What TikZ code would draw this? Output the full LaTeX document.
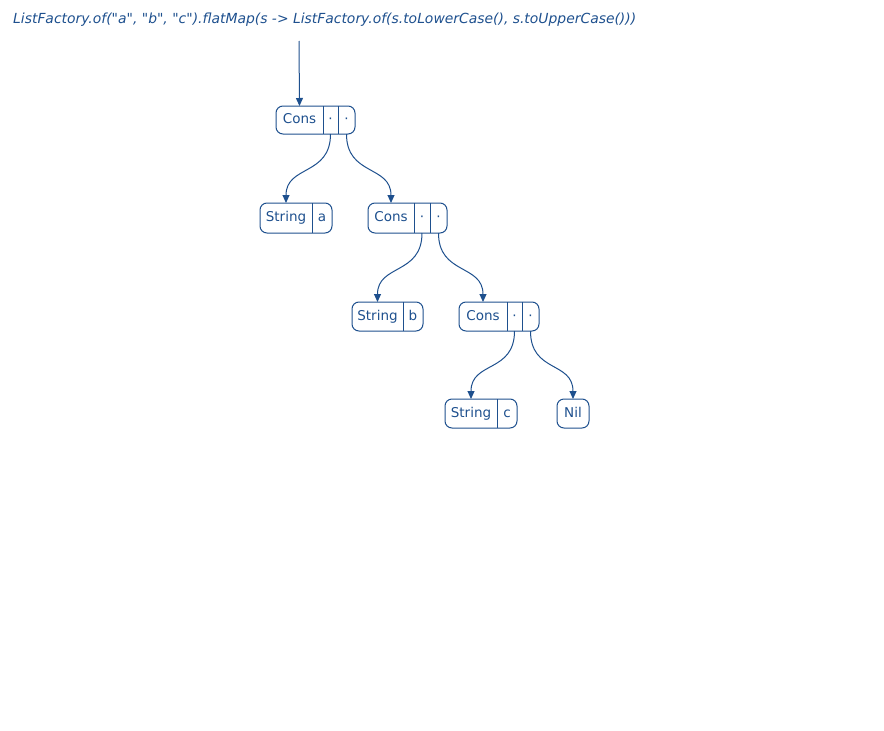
\documentclass[tikz,border=0pt]{standalone}
\usepackage{fontspec}
\setmainfont{DejaVu Sans}
\usetikzlibrary{arrows.meta}
\definecolor{ink}{RGB}{30,80,142}
\tikzset{
  x=1pt, y=-1pt,
  rec/.style={draw=ink, line width=1pt, rounded corners=7pt, inner sep=0pt, outer sep=0pt},
  cell/.style={inner sep=0pt, outer sep=0pt, text=ink, font=\fontsize{13.5}{15}\selectfont,
    text height=10pt, text depth=3pt},
  divider/.style={draw=ink, line width=1pt},
  link/.style={draw=ink, line width=1pt, -{Triangle[width=7pt,length=8pt]}},
}
\newcommand{\cellnode}[5]{% name, left, right, ycenter, text
  \node[cell, minimum width={#3-#2}, minimum height=28] (#1) at ({(#2+#3)/2},#4) {#5};}
\newcommand{\qd}{\textquotedbl}
\begin{document}
\begin{tikzpicture}
\useasboundingbox (0,0) rectangle (884,731);
% title
\node[anchor=west, inner sep=0pt, text=ink] (title) at (13,20)
  {\resizebox{623pt}{!}{\itshape ListFactory.of(\qd a\qd, \qd b\qd, \qd c\qd).flatMap(s -> ListFactory.of(s.toLowerCase(), s.toUpperCase()))}};
\coordinate (start) at (299,41);

% Cons 1
\node[rec, minimum width=79, minimum height=28] (c1) at (315.5,120) {};
\cellnode{c1t}{276}{323}{120}{Cons}
\cellnode{c1h}{323}{338}{120}{·}
\cellnode{c1r}{338}{355}{120}{·}
\draw[divider] (c1t.north east) -- (c1t.south east);
\draw[divider] (c1h.north east) -- (c1h.south east);

% String a
\node[rec, minimum width=72, minimum height=30] (sa) at (296,218) {};
\cellnode{sat}{260}{312}{218}{String}
\cellnode{sav}{312}{332}{218}{a}
\draw[divider] (sa.north -| sat.east) -- (sa.south -| sat.east);

% Cons 2
\node[rec, minimum width=79, minimum height=30] (c2) at (407.5,218) {};
\cellnode{c2t}{368}{414}{218}{Cons}
\cellnode{c2h}{414}{430}{218}{·}
\cellnode{c2r}{430}{447}{218}{·}
\draw[divider] (c2.north -| c2t.east) -- (c2.south -| c2t.east);
\draw[divider] (c2.north -| c2h.east) -- (c2.south -| c2h.east);

% String b
\node[rec, minimum width=71, minimum height=29] (sb) at (387.5,316.5) {};
\cellnode{sbt}{352}{403}{316.5}{String}
\cellnode{sbv}{403}{423}{316.5}{b}
\draw[divider] (sb.north -| sbt.east) -- (sb.south -| sbt.east);

% Cons 3
\node[rec, minimum width=80, minimum height=29] (c3) at (499,316.5) {};
\cellnode{c3t}{459}{507}{316.5}{Cons}
\cellnode{c3h}{507}{522}{316.5}{·}
\cellnode{c3r}{522}{539}{316.5}{·}
\draw[divider] (c3.north -| c3t.east) -- (c3.south -| c3t.east);
\draw[divider] (c3.north -| c3h.east) -- (c3.south -| c3h.east);

% String c
\node[rec, minimum width=72, minimum height=29] (sc) at (481,413.5) {};
\cellnode{sct}{445}{497}{413.5}{String}
\cellnode{scv}{497}{517}{413.5}{c}
\draw[divider] (sc.north -| sct.east) -- (sc.south -| sct.east);

% Nil
\node[rec, minimum width=32, minimum height=29] (nil) at (573,413.5) {};
\node[cell] (nilt) at (nil.center) {Nil};

% connectors
\draw[link] (start) -- (c1.north -| c1t.center);
\draw[link] (c1.south -| c1h.center) .. controls +(0,42) and +(0,-38) .. (sa.north -| sat.center);
\draw[link] (c1.south -| c1r.center) .. controls +(0,42) and +(0,-38) .. (c2.north -| c2t.center);
\draw[link] (c2.south -| c2h.center) .. controls +(0,42) and +(0,-38) .. (sb.north -| sbt.center);
\draw[link] (c2.south -| c2r.center) .. controls +(0,42) and +(0,-38) .. (c3.north -| c3t.center);
\draw[link] (c3.south -| c3h.center) .. controls +(0,42) and +(0,-38) .. (sc.north -| sct.center);
\draw[link] (c3.south -| c3r.center) .. controls +(0,42) and +(0,-38) .. (nil.north);
\end{tikzpicture}
\end{document}
